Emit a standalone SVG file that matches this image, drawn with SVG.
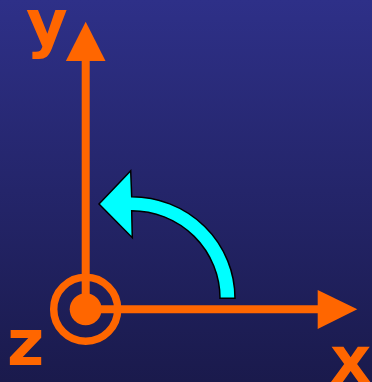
<svg xmlns="http://www.w3.org/2000/svg" width="372" height="382" viewBox="0 0 372 382">
<defs>
<linearGradient id="bg" x1="0" y1="0" x2="0" y2="1">
<stop offset="0" stop-color="#2e3088"/>
<stop offset="1" stop-color="#1a1a4c"/>
</linearGradient>
<style>
.ax{stroke:#ff6600;stroke-width:8;fill:none}
.ah{fill:#ff6600}
.lbl{font-family:"DejaVu Sans",sans-serif;font-weight:bold;font-size:64px;fill:#ff6600}
</style>
</defs>
<rect width="372" height="382" fill="url(#bg)"/>
<g id="connectors">
<line class="ax" x1="85.7" y1="60" x2="85.7" y2="309.3"/>
<polygon class="ah" points="85.7,21.7 105.5,61 65.9,61"/>
<line class="ax" x1="85.7" y1="309.3" x2="319" y2="309.3"/>
<polygon class="ah" points="357.3,309.3 317.7,290 317.7,329"/>
</g>
<g id="origin">
<circle cx="85.7" cy="309.3" r="32" fill="none" stroke="#ff6600" stroke-width="7.5"/>
<circle cx="85.7" cy="309.3" r="16" fill="#ff6600"/>
</g>
<g id="rotation">
<path d="M235,298.3 A103.3,101.6 0 0 0 131.7,196.7 L130.7,170.7 L99,204 L132.3,237.7 L131.7,210.7 A88.3,87.6 0 0 1 220,298.3 Z" fill="#00ffff" stroke="#000" stroke-width="1.5" stroke-linejoin="miter"/>
</g>
<g id="label-y"><text class="lbl" x="26" y="45">y</text></g>
<g id="label-z"><text class="lbl" x="7" y="365">z</text></g>
<g id="label-x"><text class="lbl" x="330" y="382">x</text></g>
</svg>
